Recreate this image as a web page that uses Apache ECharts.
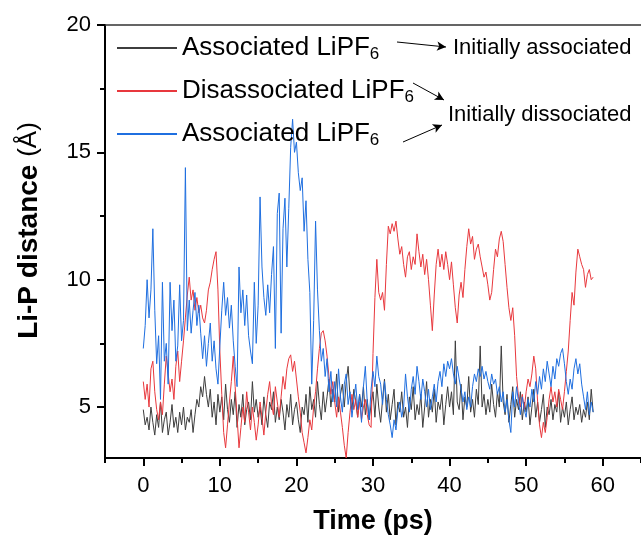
<!DOCTYPE html>
<html>
<head>
<meta charset="utf-8">
<script src="https://cdn.jsdelivr.net/npm/echarts@6/dist/echarts.min.js"></script>
<style>
html,body{margin:0;padding:0;background:#fff;}
#chart{width:641px;height:540px;}
</style>
</head>
<body>
<div id="chart"></div>
<script>
// ---- data (Li-P distance in Å, sampled every 0.25 ps from 0 to 58.75 ps) ----
const STEP_PS = 0.25;

const initiallyAssociated = [
  4.9,4.3,4.6,4.1,5.0,4.4,3.9,4.7,4.2,5.2,4.0,4.5,4.8,3.9,4.4,5.1,4.2,4.6,4.0,4.8,
  4.3,5.0,4.1,4.6,4.4,4.9,4.0,4.7,5.3,5.0,5.8,5.4,6.2,5.5,5.0,5.7,4.6,5.2,4.3,5.5,
  4.8,5.4,4.5,5.9,4.9,4.4,5.3,4.7,5.6,4.2,5.1,4.6,5.5,4.3,4.9,5.2,4.5,6.0,4.8,5.3,
  4.6,5.0,4.3,5.4,4.7,4.2,5.2,4.9,5.6,4.4,5.0,4.5,5.3,4.8,4.1,5.1,4.6,5.5,4.3,4.9,
  5.2,4.5,4.0,5.0,4.7,5.5,4.4,5.8,4.9,5.3,4.6,6.0,5.1,4.5,5.6,4.8,5.4,6.1,5.0,5.7,
  5.2,6.3,4.8,5.5,5.9,5.0,6.0,6.6,5.4,4.9,5.7,5.2,4.6,5.5,5.0,5.8,4.7,5.3,4.5,5.1,
  5.6,4.6,5.9,5.0,4.4,5.3,6.1,4.8,5.5,4.5,5.1,5.7,4.3,5.2,4.8,5.6,4.6,5.0,4.2,5.4,
  4.9,5.8,4.5,5.1,4.7,5.5,4.2,5.0,6.0,4.6,5.3,4.8,5.7,4.4,5.2,4.9,5.5,4.3,5.1,5.8,
  5.0,5.6,4.7,7.6,5.2,4.9,5.9,4.5,5.4,5.0,6.2,4.8,5.3,4.6,5.7,5.1,7.4,5.0,5.5,4.7,
  5.3,4.8,5.9,5.1,4.6,5.6,5.0,7.4,5.2,4.7,5.5,4.4,5.1,5.8,4.6,5.3,4.9,5.6,4.5,5.2,
  4.8,5.4,4.3,5.0,5.7,4.6,5.2,4.4,4.9,5.5,4.2,5.0,4.7,5.3,4.5,5.1,4.8,5.6,4.4,5.0,
  4.6,5.2,4.3,4.9,5.4,4.5,5.0,4.7,5.1,4.4,4.9,4.6,5.2,4.5,5.7,4.8
];

const disassociated = [
  6.0,5.3,5.9,5.0,6.5,6.8,5.6,4.9,4.5,5.2,4.7,5.9,7.0,6.3,5.6,6.1,5.3,6.6,7.2,6.0,
  6.8,7.6,8.5,9.4,10.1,9.2,9.6,8.8,9.3,8.7,9.0,8.5,8.3,8.8,9.6,9.9,10.4,10.8,11.1,9.6,
  7.2,5.5,4.0,3.4,4.3,5.2,6.0,7.0,5.8,4.6,3.4,4.2,5.0,4.4,5.6,4.8,4.1,5.0,4.4,3.7,
  4.3,5.2,4.6,3.9,4.8,5.5,6.0,5.1,4.7,5.8,5.2,4.6,5.4,6.2,5.7,6.5,6.9,7.05,6.4,6.8,
  6.1,5.4,4.8,4.0,3.6,3.2,3.8,4.5,4.1,5.0,5.6,6.5,7.3,7.9,8.0,7.6,7.0,6.2,5.5,6.0,
  5.2,4.6,5.4,4.8,4.2,3.5,3.0,4.0,4.8,5.5,4.9,5.3,4.6,5.2,4.5,5.0,5.3,4.7,4.3,4.2,
  7.1,9.3,10.8,9.5,9.2,9.5,8.8,10.6,12.1,11.8,12.2,11.9,12.3,11.6,11.0,11.3,10.6,10.1,10.9,11.1,
  10.4,10.9,10.6,11.8,11.1,10.5,11.0,10.2,10.8,10.0,9.0,8.0,9.4,10.6,11.2,10.5,11.0,10.4,11.1,10.6,
  10.0,10.7,9.8,8.9,8.3,9.4,9.9,9.3,10.4,11.3,12.0,11.4,11.7,10.8,11.2,11.4,10.9,10.5,10.1,10.3,
  9.8,9.2,9.5,10.4,11.2,10.9,11.6,11.9,11.5,10.6,9.7,8.9,8.4,8.9,7.8,6.2,5.4,5.0,5.5,4.9,
  5.6,6.1,5.8,6.3,7.0,6.5,5.2,4.3,3.8,4.4,4.0,4.6,5.3,5.8,5.2,5.6,5.0,5.7,5.3,4.9,
  5.6,6.4,7.2,8.4,9.5,9.0,10.3,11.2,10.9,10.6,10.4,9.7,10.2,10.4,10.0,10.1
];

const initiallyDissociated = [
  7.3,8.2,10.0,8.5,9.6,12.0,8.8,6.7,7.8,5.3,9.9,6.8,7.5,5.9,9.9,8.0,9.2,6.8,7.4,9.8,
  7.6,8.4,14.4,8.0,9.2,7.9,8.8,9.5,8.2,9.0,7.9,6.9,7.8,6.6,7.5,8.3,6.8,7.6,6.5,5.9,
  7.4,8.8,9.9,8.6,9.3,8.1,9.0,7.6,6.6,5.8,10.5,8.7,9.6,8.2,9.4,7.8,7.2,6.7,9.9,7.5,
  9.0,13.25,10.5,9.3,8.6,9.8,8.7,10.2,11.3,7.3,12.6,13.4,7.9,12.0,13.2,10.5,12.8,15.2,16.3,15.0,
  15.4,14.2,13.5,14.0,11.9,13.1,10.8,9.5,5.9,8.4,12.3,9.6,8.0,6.8,7.3,6.2,6.9,5.6,6.4,5.2,
  6.0,5.0,6.5,5.4,4.8,5.9,6.3,5.1,5.6,4.6,5.3,5.9,4.9,5.5,4.4,5.8,6.6,5.2,4.5,5.7,
  6.4,5.8,7.0,6.2,5.9,5.1,6.0,5.3,4.7,4.3,3.8,4.5,4.1,4.9,5.2,4.6,5.0,6.3,5.4,4.8,
  5.7,6.2,5.5,6.6,6.0,5.3,6.1,5.6,5.0,5.7,4.9,5.4,5.9,5.2,6.0,6.4,5.8,6.7,6.2,6.8,
  6.5,6.9,6.3,5.9,6.6,6.1,5.7,5.2,5.6,4.9,5.4,5.0,5.8,6.3,6.0,6.5,6.2,6.6,6.1,6.4,
  6.0,5.7,6.3,5.9,6.1,5.5,5.8,5.2,5.6,4.8,5.3,4.5,4.0,5.6,5.0,5.8,5.2,4.7,5.4,4.9,
  4.6,5.3,5.0,5.7,5.2,6.0,5.5,6.2,5.7,6.5,6.0,6.8,6.3,5.8,6.6,6.1,6.9,6.6,7.1,7.3,
  6.7,6.0,5.5,6.1,5.7,6.5,6.9,6.3,6.7,5.9,5.4,4.9,5.6,4.7,5.2,4.8
];

const X_MAJOR_TICKS = [0, 10, 20, 30, 40, 50, 60];
const X_MINOR_TICKS = [-5, 5, 15, 25, 35, 45, 55, 65];
const Y_MAJOR_TICKS = [5, 10, 15, 20];
const Y_MINOR_TICKS = [7.5, 12.5, 17.5];

const SERIES_NAMES = ['assocInit', 'disassoc', 'assocDiss'];
const LEGEND_LABELS = {
  assocInit: '{n|Associated LiPF}{s|6}',
  disassoc: '{n|Disassociated LiPF}{s|6}',
  assocDiss: '{n|Associated LiPF}{s|6}'
};

const toPairs = arr => arr.map((v, i) => [i * STEP_PS, v]);

const FONT = "'Liberation Sans', Arial, sans-serif";

const chart = echarts.init(document.getElementById('chart'), null, {renderer: 'canvas'});

const arrowLines = [
  [{x: 397, y: 42}, {x: 446, y: 47}],
  [{x: 413, y: 83}, {x: 444, y: 100}],
  [{x: 403, y: 142}, {x: 442, y: 125}]
];

chart.setOption({
  animation: false,
  backgroundColor: '#fff',
  grid: {left: 105, top: 25, width: 537, height: 433, containLabel: false},
  xAxis: [
    {
      type: 'value', min: -5, max: 65, position: 'bottom',
      name: 'Time (ps)', nameLocation: 'middle', nameGap: 50,
      nameTextStyle: {fontFamily: FONT, fontWeight: 'bold', fontSize: 27, color: '#000'},
      axisLine: {show: true, onZero: false, lineStyle: {color: '#000', width: 2}},
      axisTick: {show: true, inside: false, length: 8, customValues: X_MAJOR_TICKS, lineStyle: {color: '#000', width: 2}},
      axisLabel: {show: true, customValues: X_MAJOR_TICKS, margin: 17, fontFamily: FONT, fontSize: 22, color: '#000'},
      splitLine: {show: false}
    },
    {
      type: 'value', min: -5, max: 65, position: 'bottom', offset: 0,
      axisLine: {show: false, onZero: false},
      axisTick: {show: true, inside: false, length: 5, customValues: X_MINOR_TICKS, lineStyle: {color: '#000', width: 2}},
      axisLabel: {show: false},
      splitLine: {show: false}
    },
    {
      type: 'value', min: -5, max: 65, position: 'top',
      axisLine: {show: true, onZero: false, lineStyle: {color: '#333', width: 1.5}},
      axisTick: {show: false},
      axisLabel: {show: false},
      splitLine: {show: false}
    }
  ],
  yAxis: [
    {
      type: 'value', min: 3, max: 20, position: 'left',
      name: '{b|Li-P distance} {n|(Å)}', nameLocation: 'middle', nameGap: 62, nameRotate: 90,
      nameTextStyle: {
        fontFamily: FONT, fontSize: 28, color: '#000', padding: [0, 0, 0, 22],
        rich: {
          b: {fontFamily: FONT, fontSize: 28, fontWeight: 'bold', color: '#000'},
          n: {fontFamily: FONT, fontSize: 26, fontWeight: 'normal', color: '#000'}
        }
      },
      axisLine: {show: true, onZero: false, lineStyle: {color: '#000', width: 2}},
      axisTick: {show: true, inside: false, length: 8, customValues: Y_MAJOR_TICKS, lineStyle: {color: '#000', width: 2}},
      axisLabel: {show: true, customValues: Y_MAJOR_TICKS, margin: 14, fontFamily: FONT, fontSize: 22, color: '#000'},
      splitLine: {show: false}
    },
    {
      type: 'value', min: 3, max: 20, position: 'left', offset: 0,
      axisLine: {show: false, onZero: false},
      axisTick: {show: true, inside: false, length: 5, customValues: Y_MINOR_TICKS, lineStyle: {color: '#000', width: 2}},
      axisLabel: {show: false},
      splitLine: {show: false}
    }
  ],
  legend: {
    orient: 'vertical', left: 111, top: 29,
    itemWidth: 60, itemHeight: 14, itemGap: 14,
    itemStyle: {opacity: 0},
    data: SERIES_NAMES,
    formatter: name => LEGEND_LABELS[name],
    textStyle: {
      fontFamily: FONT, fontSize: 26, color: '#000',
      rich: {
        n: {fontFamily: FONT, fontSize: 26, color: '#000', lineHeight: 30},
        s: {fontFamily: FONT, fontSize: 17, color: '#000', lineHeight: 30, verticalAlign: 'bottom', padding: [12, 0, 0, 0]}
      }
    }
  },
  graphic: [
    {type: 'text', x: 453, y: 48, style: {text: 'Initially associated', fontFamily: FONT, fontSize: 22, fill: '#000', verticalAlign: 'middle', align: 'left'}},
    {type: 'text', x: 448, y: 115, style: {text: 'Initially dissociated', fontFamily: FONT, fontSize: 22, fill: '#000', verticalAlign: 'middle', align: 'left'}}
  ],
  series: [
    {
      name: SERIES_NAMES[0], type: 'line', xAxisIndex: 0, yAxisIndex: 0,
      data: toPairs(initiallyAssociated), symbol: 'none', showSymbol: false,
      color: '#3d3d3d', lineStyle: {width: 1, color: '#3d3d3d'}
    },
    {
      name: SERIES_NAMES[1], type: 'line', xAxisIndex: 0, yAxisIndex: 0,
      data: toPairs(disassociated), symbol: 'none', showSymbol: false,
      color: '#e8383d', lineStyle: {width: 1, color: '#e8383d'}
    },
    {
      name: SERIES_NAMES[2], type: 'line', xAxisIndex: 0, yAxisIndex: 0,
      data: toPairs(initiallyDissociated), symbol: 'none', showSymbol: false,
      color: '#1f6fe0', lineStyle: {width: 1, color: '#1f6fe0'},
      markLine: {
        silent: true, symbol: ['none', 'arrow'], symbolSize: [7, 9],
        lineStyle: {color: '#000', width: 1, type: 'solid'},
        label: {show: false},
        data: arrowLines
      }
    }
  ]
});
</script>
</body>
</html>
